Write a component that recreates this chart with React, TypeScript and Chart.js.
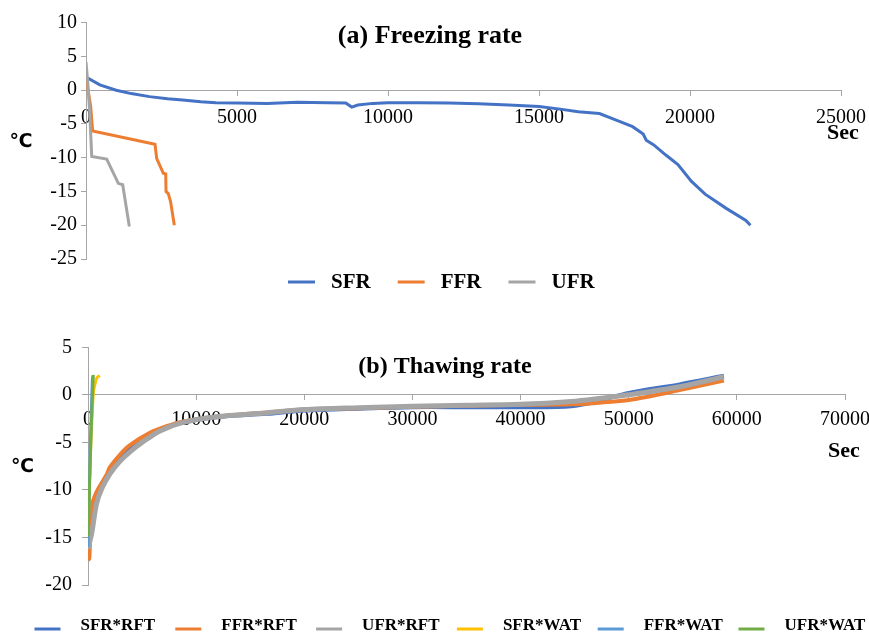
import React, { useEffect, useRef } from 'react';
import { Chart, registerables } from 'chart.js';

Chart.register(...registerables);

// ---------- (a) Freezing rate ----------
const freezeTitle = '(a) Freezing rate';
const freezeLabels = ['SFR', 'FFR', 'UFR'];
const freezeXTicks = { min: 0, max: 25000, step: 5000 };
const freezeYTicks = { min: -25, max: 10, step: 5 };

const sfrTime = [0, 80, 460, 1000, 1500, 2100, 2700, 3200, 3800, 4300, 5000, 6000, 7000, 8000, 8600, 8800, 9000, 9500, 10000, 11000, 12000, 13000, 14000, 15000, 15700, 16300, 17000, 17600, 18100, 18450, 18550, 18800, 19200, 19600, 20050, 20500, 21200, 21850, 22000];
const sfrTemp = [1.8, 1.75, 0.8, 0, -0.5, -0.95, -1.25, -1.45, -1.7, -1.85, -1.9, -1.95, -1.8, -1.85, -1.9, -2.5, -2.2, -1.95, -1.85, -1.85, -1.9, -2.0, -2.2, -2.4, -2.8, -3.2, -3.45, -4.5, -5.4, -6.5, -7.4, -8.1, -9.6, -11.0, -13.5, -15.4, -17.5, -19.3, -20.0];

const ffrTime = [0, 60, 155, 220, 2285, 2340, 2560, 2640, 2650, 2725, 2800, 2925];
const ffrTemp = [2.5, 0.3, -2.4, -6.05, -8.0, -10.1, -12.3, -12.4, -15.0, -15.3, -16.5, -20.0];

const ufrTime = [0, 60, 120, 190, 685, 1070, 1215, 1435];
const ufrTemp = [4.2, 1.0, -3.0, -9.8, -10.2, -13.8, -14.0, -20.2];

// ---------- (b) Thawing rate ----------
const thawTitle = '(b) Thawing rate';
const thawLabels = ['SFR*RFT', 'FFR*RFT', 'UFR*RFT', 'SFR*WAT', 'FFR*WAT', 'UFR*WAT'];
const thawXTicks = { min: 0, max: 70000, step: 10000 };
const thawYTicks = { min: -20, max: 5, step: 5 };

const sfrRftTime = [0, 120, 340, 800, 2030, 3880, 5720, 6650, 8800, 11880, 16500, 20000, 25000, 30000, 35000, 40000, 44700, 47500, 50000, 54700, 58800];
const sfrRftTemp = [-15.8, -15.0, -12.6, -11.0, -8.0, -5.7, -4.5, -3.7, -2.9, -2.35, -2.0, -1.65, -1.45, -1.3, -1.3, -1.3, -1.2, -0.55, 0.2, 1.1, 2.0];

const ffrRftTime = [0, 120, 340, 800, 1720, 2030, 2950, 3880, 5720, 7270, 8800, 11880, 16500, 20000, 25000, 30000, 35000, 40000, 44700, 47500, 50000, 54700, 58800];
const ffrRftTemp = [-17.4, -17.2, -11.8, -10.2, -8.4, -7.6, -6.3, -5.3, -4.0, -3.3, -2.8, -2.3, -1.85, -1.55, -1.4, -1.25, -1.15, -1.05, -1.0, -0.8, -0.55, 0.5, 1.5];

const ufrRftTime = [0, 150, 340, 800, 1300, 2030, 2950, 3880, 5000, 6650, 8800, 11880, 16500, 20000, 25000, 30000, 35000, 40000, 44700, 47500, 50000, 54700, 58800];
const ufrRftTemp = [-16.2, -15.5, -14.6, -11.4, -9.8, -8.3, -7.0, -6.0, -5.0, -3.8, -2.9, -2.3, -1.9, -1.55, -1.35, -1.2, -1.1, -1.0, -0.7, -0.35, 0.0, 0.85, 1.9];

const sfrWatTime = [0, 200, 490, 740, 900, 1110];
const sfrWatTemp = [-15.0, -7.0, 0.15, 1.55, 1.9, 2.0];

const ffrWatTime = [0, 200, 400, 450];
const ffrWatTemp = [-16.0, -6.0, 1.5, 2.0];

const ufrWatTime = [0, 120, 250, 380, 490];
const ufrWatTemp = [-14.9, -10.5, -5.5, -1.0, 2.1];

const COLORS = ['#4472C4', '#ED7D31', '#A5A5A5', '#FFC000', '#5B9BD5', '#70AD47'];
const SERIF = "'Liberation Serif', 'Times New Roman', serif";
const AXIS_COLOR = '#a6a6a6';

const xy = (t: number[], v: number[]) => t.map((x, i) => ({ x, y: v[i] }));

type TextItem = { text: string; x: number; y: number; font: string; align?: CanvasTextAlign };
type LegendSpec = { x: number; lineY: number; textY: number; lineLen: number; gap: number; spacing?: number; pitch?: number; font: string; lineWidth: number };

function makeTextPlugin(texts: TextItem[], legend: LegendSpec) {
  return {
    id: 'annotations',
    afterDraw(chart: any) {
      const ctx: CanvasRenderingContext2D = chart.ctx;
      ctx.save();
      ctx.fillStyle = '#000';
      ctx.textBaseline = 'middle';
      for (const t of texts) {
        ctx.font = t.font;
        ctx.textAlign = t.align || 'center';
        ctx.fillText(t.text, t.x, t.y);
      }
      ctx.font = legend.font;
      ctx.textAlign = 'left';
      let x = legend.x;
      chart.data.datasets.forEach((ds: any) => {
        ctx.strokeStyle = ds.borderColor;
        ctx.lineWidth = legend.lineWidth;
        ctx.beginPath();
        ctx.moveTo(x, legend.lineY);
        ctx.lineTo(x + legend.lineLen, legend.lineY);
        ctx.stroke();
        ctx.fillText(ds.label, x + legend.lineLen + legend.gap, legend.textY);
        if (legend.pitch) x += legend.pitch;
        else x += legend.lineLen + legend.gap + ctx.measureText(ds.label).width + (legend.spacing || 0);
      });
      ctx.restore();
    },
  };
}

function scaleOpts(range: { min: number; max: number; step: number }, isX: boolean, tickLen: number, pad: number, fixed: number) {
  return {
    type: 'linear' as const,
    position: isX ? { y: 0 } : 'left',
    min: range.min,
    max: range.max,
    afterFit: (s: any) => {
      if (isX) s.height = fixed;
      else s.width = fixed;
      s.paddingLeft = 0;
      s.paddingRight = 0;
      s.paddingTop = 0;
      s.paddingBottom = 0;
    },
    ticks: {
      stepSize: range.step,
      padding: pad,
      color: '#000',
      autoSkip: false,
      maxRotation: 0,
      font: { family: SERIF, size: 20 },
      callback: (v: any) => String(v),
    },
    grid: { display: true, drawOnChartArea: false, drawTicks: true, tickLength: tickLen, color: AXIS_COLOR, lineWidth: 1 },
    border: { display: true, color: AXIS_COLOR, width: 1 },
  };
}

function freezeConfig(): any {
  const series = [xy(sfrTime, sfrTemp), xy(ffrTime, ffrTemp), xy(ufrTime, ufrTemp)];
  const n = series.length;
  return {
    type: 'line',
    data: {
      datasets: series.map((d, i) => ({
        label: freezeLabels[i],
        data: d,
        borderColor: COLORS[i],
        backgroundColor: COLORS[i],
        borderWidth: 3,
        pointRadius: 0,
        tension: 0,
        order: n - i,
      })),
    },
    options: {
      responsive: false,
      animation: false,
      layout: { padding: { left: 0, right: 28, top: 22.7, bottom: 46 } },
      plugins: { legend: { display: false }, title: { display: false }, tooltip: { enabled: false } },
      scales: {
        x: scaleOpts(freezeXTicks, true, 5, 11, 0),
        y: scaleOpts(freezeYTicks, false, 5, 4, 86),
      },
    },
    plugins: [
      makeTextPlugin(
        [
          { text: freezeTitle, x: 430, y: 36, font: `bold 26px ${SERIF}` },
          { text: '℃', x: 21, y: 142, font: "bold 19px 'DejaVu Sans', sans-serif" },
          { text: 'Sec', x: 843, y: 133, font: `bold 22px ${SERIF}` },
        ],
        { x: 288, lineY: 282, textY: 283, lineLen: 27, gap: 16, spacing: 27, font: `bold 21px ${SERIF}`, lineWidth: 3 }
      ),
    ],
  };
}

function thawConfig(): any {
  const series = [
    xy(sfrRftTime, sfrRftTemp),
    xy(ffrRftTime, ffrRftTemp),
    xy(ufrRftTime, ufrRftTemp),
    xy(sfrWatTime, sfrWatTemp),
    xy(ffrWatTime, ffrWatTemp),
    xy(ufrWatTime, ufrWatTemp),
  ];
  const widths = [4, 4, 5, 3, 3, 3];
  const n = series.length;
  return {
    type: 'line',
    data: {
      datasets: series.map((d, i) => ({
        label: thawLabels[i],
        data: d,
        borderColor: COLORS[i],
        backgroundColor: COLORS[i],
        borderWidth: widths[i],
        pointRadius: 0,
        tension: 0.3,
        order: n - i,
      })),
    },
    options: {
      responsive: false,
      animation: false,
      layout: { padding: { left: 0, right: 24, top: 42.3, bottom: 50 } },
      plugins: { legend: { display: false }, title: { display: false }, tooltip: { enabled: false } },
      scales: {
        x: scaleOpts(thawXTicks, true, 5, 8, 0),
        y: scaleOpts(thawYTicks, false, 6, 10, 88),
      },
    },
    plugins: [
      makeTextPlugin(
        [
          { text: thawTitle, x: 445, y: 62, font: `bold 24px ${SERIF}` },
          { text: '℃', x: 22.5, y: 162.5, font: "bold 19px 'DejaVu Sans', sans-serif" },
          { text: 'Sec', x: 844, y: 146, font: `bold 22px ${SERIF}` },
        ],
        { x: 34.5, lineY: 324, textY: 321, lineLen: 26, gap: 20, pitch: 140.8, font: `bold 17px ${SERIF}`, lineWidth: 3 }
      ),
    ],
  };
}

export default function App() {
  const topRef = useRef<HTMLCanvasElement>(null);
  const botRef = useRef<HTMLCanvasElement>(null);

  useEffect(() => {
    const c1 = new Chart(topRef.current as HTMLCanvasElement, freezeConfig());
    const c2 = new Chart(botRef.current as HTMLCanvasElement, thawConfig());
    return () => {
      c1.destroy();
      c2.destroy();
    };
  }, []);

  return (
    <div style={{ position: 'fixed', left: 0, top: 0, width: 869, height: 635, background: '#fff', overflow: 'hidden' }}>
      <canvas ref={topRef} width={869} height={305} style={{ position: 'absolute', left: 0, top: 0 }} />
      <canvas ref={botRef} width={869} height={330} style={{ position: 'absolute', left: 0, top: 305 }} />
    </div>
  );
}
